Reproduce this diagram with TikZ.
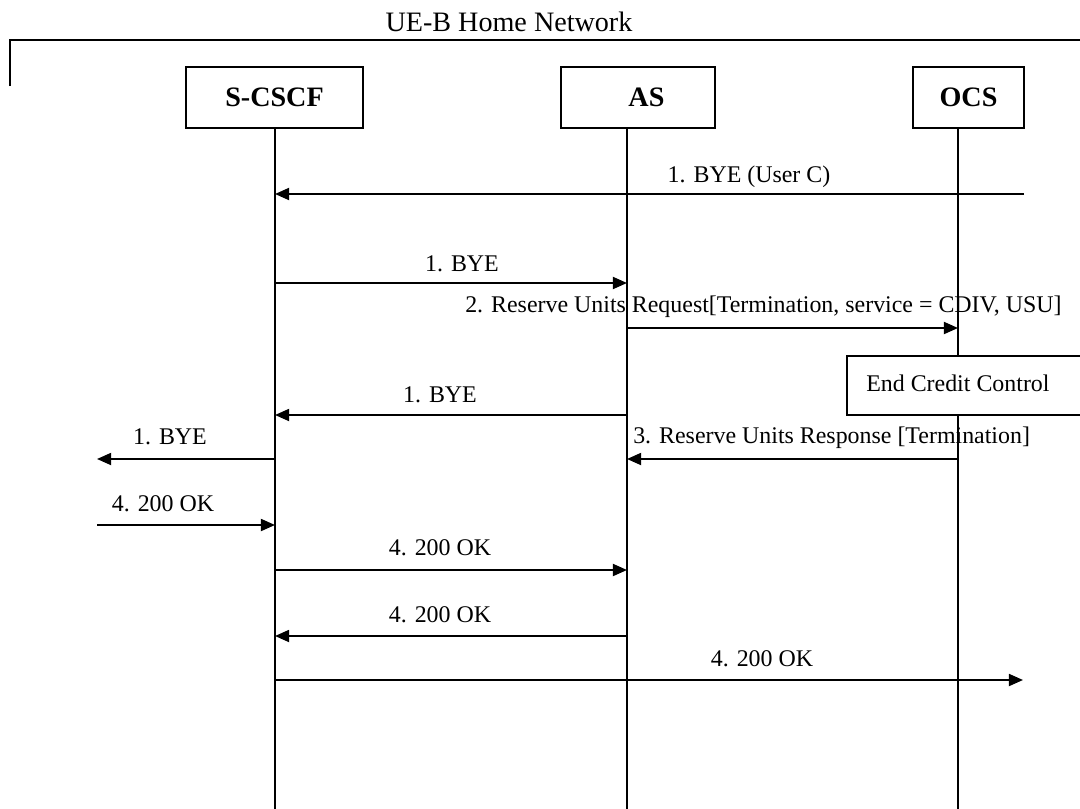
\documentclass[tikz,border=0pt]{standalone}
\usepackage{fontspec}
\setmainfont{Liberation Serif}
\usetikzlibrary{arrows.meta}
\tikzset{
  ent/.style={draw, line width=1.2pt, inner sep=0pt, minimum height=1.525cm, font=\fontsize{20}{24}\selectfont\bfseries},
  life/.style={line width=0.95pt},
  msg/.style={line width=1.4pt, -{Triangle[length=10pt,width=8.5pt]}},
  lbl/.style={inner sep=0pt, font=\fontsize{17}{20}\selectfont}
}
\begin{document}
\begin{tikzpicture}[x=0.025cm, y=-0.025cm]
\useasboundingbox (0,0) rectangle (1080,809);
\node[inner sep=0pt, font=\fontsize{20}{24}\selectfont] (title) at (509,22) {UE-B Home Network};
\draw[line width=1.4pt] (10,86) -- (10,40) -- (1080,40);
\node[ent, minimum width=4.425cm] (scscf) at (274.5,97.5) {S-CSCF};
\node[ent, minimum width=3.85cm] (as) at (638,97.5) {\hspace{0.6em}AS};
\node[ent, minimum width=2.775cm] (ocs) at (968.5,97.5) {OCS\hspace{0.4em}};
\coordinate (scscfL) at (275,128); \coordinate (asL) at (627,128); \coordinate (ocsL) at (958,128); \coordinate (bot) at (0,809);
\draw[life] (scscfL) -- (scscfL |- bot);
\draw[life] (asL) -- (asL |- bot);
\draw[life] (ocsL) -- (ocsL |- bot);
\coordinate (r1) at (1024,194); \coordinate (r2) at (0,283); \coordinate (r3) at (0,328); \coordinate (r4) at (0,415);
\coordinate (l5) at (97,459); \coordinate (l7) at (97,525); \coordinate (r8) at (0,570); \coordinate (r9) at (0,636); \coordinate (r10) at (1023,680);
\draw[msg] (r1) -- (r1 -| scscfL); \node[lbl] (m1) at (749,177) {1. BYE (User C)};
\draw[msg] (scscfL |- r2) -- (asL |- r2); \node[lbl] (m2) at (462,264) {1. BYE};
\draw[msg] (asL |- r3) -- (ocsL |- r3); \node[lbl, anchor=west] (m3) at (465,307) {2. Reserve Units Request[Termination, service = CDIV, USU]};
\draw[fill=white, line width=1.2pt] (1080,356) -| (847,415) -- (1080,415); \node[lbl, anchor=west] (ecc) at (866,383) {End Credit Control};
\draw[msg] (asL |- r4) -- (scscfL |- r4); \node[lbl] (m4) at (440,395) {1. BYE};
\draw[msg] (scscfL |- l5) -- (l5); \node[lbl] (m5) at (170,437) {1. BYE};
\draw[msg] (ocsL |- l5) -- (asL |- l5); \node[lbl, anchor=west] (m6) at (633,438) {3. Reserve Units Response [Termination]};
\draw[msg] (l7) -- (l7 -| scscfL); \node[lbl] (m7) at (163,504) {4. 200 OK};
\draw[msg] (scscfL |- r8) -- (asL |- r8); \node[lbl] (m8) at (440,548) {4. 200 OK};
\draw[msg] (asL |- r9) -- (scscfL |- r9); \node[lbl] (m9) at (440,615) {4. 200 OK};
\draw[msg] (scscfL |- r10) -- (r10); \node[lbl] (m10) at (762,659) {4. 200 OK};
\end{tikzpicture}
\end{document}
